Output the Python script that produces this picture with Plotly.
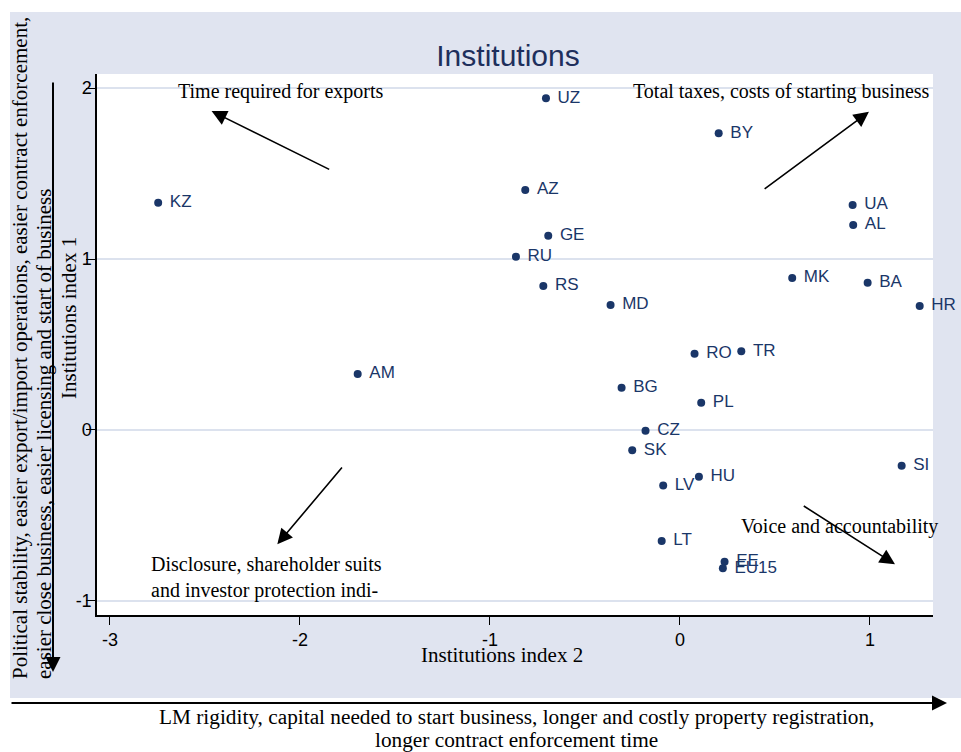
import plotly.graph_objects as go

countries = ['KZ', 'UZ', 'BY', 'AZ', 'GE', 'RU', 'RS', 'MD', 'MK', 'UA', 'AL', 'BA', 'HR',
             'RO', 'TR', 'AM', 'BG', 'PL', 'CZ', 'SK', 'SI', 'HU', 'LV', 'LT', 'EE', 'EU15']
index2 = [-2.746, -0.705, 0.204, -0.814, -0.693, -0.863, -0.719, -0.365, 0.591, 0.909, 0.912, 0.988, 1.262,
          0.077, 0.323, -1.696, -0.307, 0.112, -0.181, -0.251, 1.167, 0.100, -0.088, -0.096, 0.235, 0.226]
index1 = [1.329, 1.940, 1.735, 1.404, 1.136, 1.013, 0.842, 0.731, 0.889, 1.316, 1.199, 0.861, 0.725,
          0.446, 0.460, 0.327, 0.247, 0.160, -0.004, -0.119, -0.209, -0.273, -0.324, -0.649, -0.770, -0.809]
x_ticks = [-3, -2, -1, 0, 1]
y_ticks = [-1, 0, 1, 2]

W, H = 961, 752
L, R, T, B = 97, 933, 74, 615
NAVY = '#1a3668'
BG = '#e0e4f0'
SERIF = 'Times New Roman, Liberation Serif, serif'
SANS = 'Arial, Liberation Sans, sans-serif'


def px(xp):
    return (xp - L) / (R - L)


def py(yp):
    return (B - yp) / (B - T)


fig = go.Figure()
fig.add_trace(go.Scatter(
    x=index2, y=index1, mode='markers',
    marker=dict(size=8, color=NAVY),
    cliponaxis=False, showlegend=False, hoverinfo='skip',
))
# labels, pushed a bit further from the dots by an invisible bigger marker
fig.add_trace(go.Scatter(
    x=index2, y=index1, mode='markers+text', text=countries,
    textposition='middle right',
    marker=dict(size=17, color='rgba(0,0,0,0)'),
    textfont=dict(family=SANS, size=17, color=NAVY),
    cliponaxis=False, showlegend=False,
))

# corner labels with arrows (data units)
arrows = [
    (-2.465, 1.865, -1.838, 1.520),
    (0.995, 1.861, 0.438, 1.404),
    (-2.119, -0.668, -1.772, -0.211),
    (1.132, -0.785, 0.644, -0.439),
]
for x, y, ax, ay in arrows:
    fig.add_annotation(x=x, y=y, ax=ax, ay=ay, xref='x', yref='y', axref='x', ayref='y',
                       text='', showarrow=True, arrowhead=2, arrowsize=1.9, arrowwidth=1.6,
                       arrowcolor='black')

notes = [
    ('Time required for exports', 176, 92, 'left'),
    ('Total taxes, costs of starting business', 932, 92, 'right'),
    ('Voice and accountability', 940, 526, 'right'),
    ('Disclosure, shareholder suits<br>and investor protection indi-', 149, 577, 'left'),
]
for txt, xp, yp, anc in notes:
    fig.add_annotation(x=px(xp), y=py(yp), xref='paper', yref='paper', text=txt, showarrow=False,
                       xanchor=anc, yanchor='middle', align='left',
                       font=dict(family=SERIF, size=20, color='black'))

# axis titles
fig.add_annotation(x=px(69), y=py(318), xref='paper', yref='paper', text='Institutions index 1',
                   textangle=-90, showarrow=False, xanchor='center', yanchor='middle',
                   font=dict(family=SERIF, size=21, color='black'))
fig.add_annotation(x=px(502), y=py(655), xref='paper', yref='paper', text='Institutions index 2',
                   showarrow=False, xanchor='center', yanchor='middle',
                   font=dict(family=SERIF, size=21, color='black'))

# outer direction arrows and their labels
fig.add_annotation(x=px(53), y=py(672), xref='paper', yref='paper', ax=0, ay=-591,
                   text='', showarrow=True, arrowhead=2, arrowsize=1.5, arrowwidth=2, arrowcolor='black')
fig.add_annotation(x=px(947), y=py(703), xref='paper', yref='paper', ax=-937, ay=0,
                   text='', showarrow=True, arrowhead=2, arrowsize=1.5, arrowwidth=2, arrowcolor='black')
side_lines = [
    ('Political stability, easier export/import operations, easier contract enforcement,', 20),
    ('easier close business, easier licensing and start of business', 44),
]
for txt, xp in side_lines:
    fig.add_annotation(x=px(xp), y=py(681), xref='paper', yref='paper', textangle=-90,
                       xanchor='center', yanchor='bottom', showarrow=False, text=txt,
                       font=dict(family=SERIF, size=21, color='black'))
bottom_lines = [
    ('LM rigidity, capital needed to start business, longer and costly property registration,', 717),
    ('longer contract enforcement time', 740),
]
for txt, yp in bottom_lines:
    fig.add_annotation(x=px(516), y=py(yp), xref='paper', yref='paper', showarrow=False,
                       xanchor='center', yanchor='middle', text=txt,
                       font=dict(family=SERIF, size=21.3, color='black'))

# white page outside the shaded graph region
for x0, x1, y0, y1 in [(0, W, 0, 12), (0, 10, 0, H), (0, W, 698, H)]:
    fig.add_shape(type='rect', xref='paper', yref='paper', x0=px(x0), x1=px(x1), y0=py(y1), y1=py(y0),
                  fillcolor='white', line_width=0, layer='below')

fig.update_layout(
    width=W, height=H,
    margin=dict(l=L, r=W - R, t=T, b=H - B),
    paper_bgcolor=BG, plot_bgcolor='white',
    title=dict(text='Institutions', x=508 / W, y=1 - 55 / H, xanchor='center', yanchor='middle',
               font=dict(family=SANS, size=30, color='#1e2f5c')),
    xaxis=dict(range=[-3.068, 1.332], tickvals=x_ticks, ticktext=[str(v) for v in x_ticks],
               ticks='outside', ticklen=8, tickcolor='black',
               showgrid=False, zeroline=False, showline=True, linecolor='black', linewidth=1.5,
               tickfont=dict(family=SANS, size=18, color='black')),
    yaxis=dict(range=[-1.082, 2.082], tickvals=y_ticks, ticktext=[str(v) for v in y_ticks],
               ticks='outside', ticklen=9, tickcolor='black', ticklabelstandoff=-9,
               showgrid=True, gridcolor='#dce2ee', gridwidth=2, zeroline=False,
               showline=True, linecolor='black', linewidth=1.5,
               tickfont=dict(family=SANS, size=18, color='black')),
)

fig.write_html('out.html', config={'displayModeBar': False},
               post_script="document.body.style.margin='0';document.body.style.overflow='hidden';")
